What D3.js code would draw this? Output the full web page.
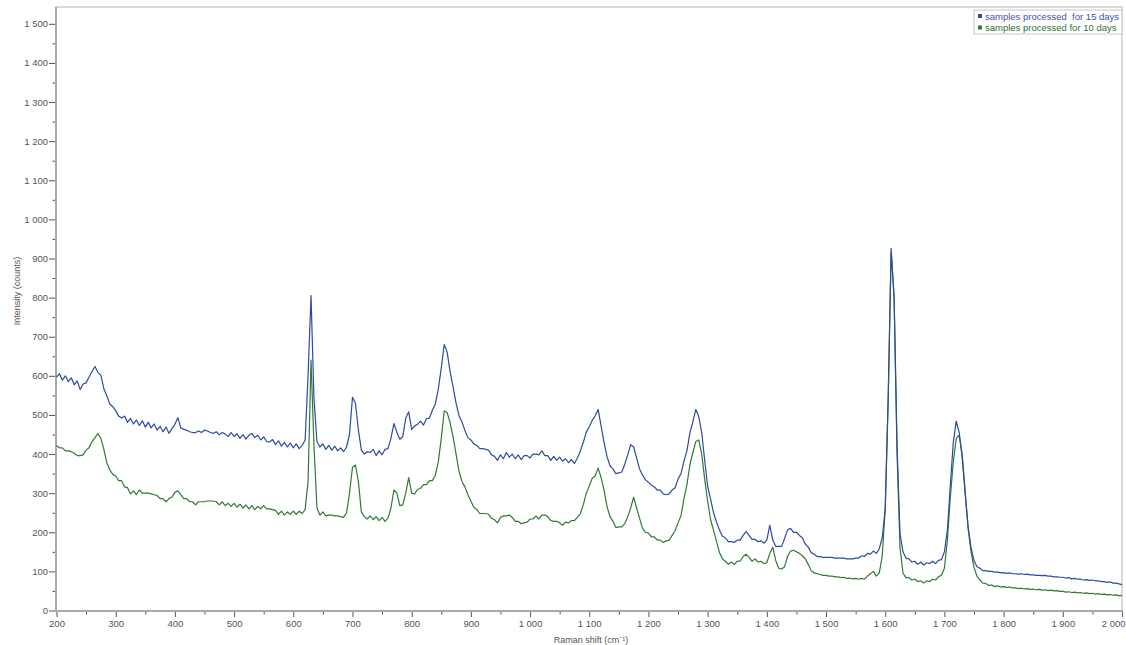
<!DOCTYPE html>
<html>
<head>
<meta charset="utf-8">
<script src="https://cdn.jsdelivr.net/npm/d3@7/dist/d3.min.js"></script>
<style>
  html, body { margin: 0; padding: 0; background: #fff; }
  svg { display: block; font-family: "Liberation Sans", Arial, sans-serif; }
</style>
</head>
<body>
<svg id="chart" width="1126" height="645"></svg>
<script>
// Raman shift sampling: 200 to 2000 cm-1, one reading every 5 cm-1
const shiftStart = 200;
const shiftStep = 5;

// Intensity (counts), samples processed for 15 days (one row per 100 cm-1)
const days15 = [
  597,605,589,600,585,595,577,587,565,579,582,597,611,624,609,601,567,549,528,521,
  511,497,492,497,481,491,477,487,473,485,469,481,467,477,461,471,457,469,453,465,
  476,493,467,463,461,457,455,455,459,455,461,459,455,453,457,449,455,451,445,455,
  445,452,440,450,438,448,453,442,448,436,444,432,431,437,424,434,420,430,418,428,
  416,426,414,422,436,600,805,540,432,418,426,412,422,410,420,408,416,406,418,450,
  545,530,462,410,400,406,404,412,396,408,398,412,414,440,478,456,438,445,492,508,
  463,472,476,484,474,490,492,512,528,566,620,680,660,610,572,530,498,482,460,442,
  436,426,422,414,414,412,410,398,394,384,398,388,404,392,400,388,398,386,396,396,
  390,400,400,398,408,396,396,384,394,384,392,382,388,378,386,376,390,408,430,456,
  470,486,498,514,472,430,394,370,362,350,352,354,374,398,424,418,390,362,346,334,
  328,320,316,308,308,298,296,298,308,314,336,350,382,408,454,482,514,496,455,384,
  318,284,250,226,206,190,186,176,176,174,180,180,192,202,192,182,182,176,178,172,
  180,218,180,164,164,164,184,206,210,200,200,192,186,170,162,148,144,138,138,136,
  136,136,136,134,134,134,134,132,132,132,134,134,140,138,146,144,152,146,158,186,
  260,540,926,800,420,196,150,134,132,124,126,118,124,116,122,120,126,120,128,130,
  150,205,320,430,484,455,390,300,215,160,128,112,108,102,102,100,100,98,98,96,
  97,95,96,94,94,93,94,92,93,91,91,90,90,89,90,88,88,86,86,85,
  85,83,84,81,82,80,80,78,79,77,78,76,76,74,74,72,73,70,70,68,66
];

// Intensity (counts), samples processed for 10 days (one row per 100 cm-1)
const days10 = [
  422,416,416,408,408,406,402,396,396,398,410,416,432,442,452,440,412,378,360,348,
  344,332,332,316,314,298,306,296,308,300,300,300,298,296,294,286,286,278,286,290,
  302,306,296,286,286,278,278,270,278,278,278,280,280,280,278,270,278,268,274,266,
  274,264,272,262,270,260,268,258,266,260,268,260,260,258,256,246,254,244,252,246,
  254,246,254,248,258,330,640,420,262,244,252,242,244,244,242,242,240,238,250,300,
  366,372,330,252,240,234,242,232,240,230,238,228,236,262,308,300,268,270,300,340,
  300,298,310,312,322,322,332,332,346,380,440,510,506,480,444,400,356,330,316,296,
  280,264,258,248,248,248,246,236,232,224,238,242,242,244,238,228,228,222,224,226,
  234,234,242,234,244,244,240,230,228,228,224,218,226,224,230,230,238,248,270,300,
  318,338,344,364,340,308,266,240,228,212,214,214,222,240,262,290,262,236,210,200,
  198,188,188,180,180,174,178,180,192,204,224,242,286,322,372,404,432,436,400,336,
  280,232,205,176,148,132,126,118,124,118,126,126,138,144,136,126,132,124,126,120,
  122,146,162,128,108,106,112,138,152,154,150,146,140,132,118,102,96,94,92,90,
  90,88,88,86,86,84,85,82,83,81,82,80,82,80,88,94,100,88,96,140,
  260,540,915,802,400,160,96,84,84,78,80,74,76,70,76,74,80,78,86,90,
  108,180,290,380,440,448,400,305,210,150,110,88,78,70,69,64,65,61,63,60,
  61,59,60,58,58,56,57,55,56,54,55,53,54,52,53,51,52,50,51,49,
  49,47,48,46,47,45,46,44,45,43,44,42,43,41,42,40,41,39,40,38,38
];

const seriesNames = ["samples processed  for 15 days", "samples processed for 10 days"];
const seriesColors = ["#2d4b9e", "#2f7a34"];
const legendColors = ["#3f53a8", "#2f6f3c"];

const xMajorTicks = d3.range(200, 2001, 100);
const xMinorTicks = d3.range(250, 2000, 100);
const yMajorTicks = d3.range(0, 1501, 100);
const yMinorTicks = d3.range(50, 1501, 100);

(function draw() {
  const shift = days15.map((_, i) => shiftStart + i * shiftStep);

  const svg = d3.select("#chart");
  const pLeft = 56, pRight = 1122, pTop = 7, pBottom = 611;

  const x = d3.scaleLinear().domain([200, 2000]).range([pLeft + 0.5, pRight]);
  const y = d3.scaleLinear().domain([0, 1543]).range([pBottom - 0.5, pTop]);

  const locale = d3.formatLocale({ decimal: ".", thousands: " ", grouping: [3], currency: ["", ""] });
  const fmt = locale.format(",");

  // plot frame
  svg.append("rect")
    .attr("x", pLeft).attr("y", pTop)
    .attr("width", pRight - pLeft).attr("height", pBottom - pTop)
    .attr("fill", "none").attr("stroke", "#b4b4b4").attr("stroke-width", 1);

  // axis lines (heavier on left and bottom)
  svg.append("line").attr("x1", pLeft).attr("x2", pLeft).attr("y1", pTop).attr("y2", pBottom + 1)
    .attr("stroke", "#a8a8a8").attr("stroke-width", 2);
  svg.append("line").attr("x1", pLeft - 1).attr("x2", pRight + 1).attr("y1", pBottom).attr("y2", pBottom)
    .attr("stroke", "#a8a8a8").attr("stroke-width", 2);

  // x axis
  const gx = svg.append("g").attr("transform", `translate(0,${pBottom + 1})`)
    .call(d3.axisBottom(x).tickValues(xMajorTicks).tickFormat(fmt).tickSize(5).tickPadding(3));
  svg.append("g").attr("transform", `translate(0,${pBottom + 1})`)
    .call(d3.axisBottom(x).tickValues(xMinorTicks).tickFormat("").tickSize(2.5));
  // last label sits against the right edge
  gx.selectAll(".tick text").filter(d => d === 2000)
    .attr("text-anchor", "end").attr("x", 3);

  // y axis
  svg.append("g").attr("transform", `translate(${pLeft - 1},0)`)
    .call(d3.axisLeft(y).tickValues(yMajorTicks).tickFormat(fmt).tickSize(6).tickPadding(1));
  svg.append("g").attr("transform", `translate(${pLeft - 1},0)`)
    .call(d3.axisLeft(y).tickValues(yMinorTicks).tickFormat("").tickSize(2.5));

  svg.selectAll(".domain").remove();
  svg.selectAll(".tick line").attr("stroke", "#555").attr("stroke-width", 1);
  svg.selectAll(".tick text").attr("fill", "#555").style("font-size", "9.5px")
    .style("font-family", "'Liberation Sans', Arial, sans-serif");

  // axis titles
  svg.append("text").attr("x", 591).attr("y", 643).attr("text-anchor", "middle")
    .attr("fill", "#555").style("font-size", "9px")
    .text("Raman shift (cm⁻¹)");
  svg.append("text").attr("transform", "translate(19.5,291) rotate(-90)").attr("text-anchor", "middle")
    .attr("fill", "#555").style("font-size", "9px")
    .text("Intensity (counts)");

  // spectra
  const line = d3.line().x((d, i) => x(shift[i])).y(d => y(d));
  const plot = svg.append("g");
  plot.append("path").datum(days10).attr("d", line)
    .attr("fill", "none").attr("stroke", seriesColors[1]).attr("stroke-width", 1.2)
    .attr("stroke-linejoin", "round");
  plot.append("path").datum(days15).attr("d", line)
    .attr("fill", "none").attr("stroke", seriesColors[0]).attr("stroke-width", 1.2)
    .attr("stroke-linejoin", "round");

  // legend
  const lg = svg.append("g").attr("transform", "translate(974,10)");
  lg.append("rect").attr("width", 148).attr("height", 24)
    .attr("fill", "#fff").attr("stroke", "#c8c8c8");
  seriesNames.forEach((name, i) => {
    lg.append("rect").attr("x", 4).attr("y", 4 + i * 11.5).attr("width", 4).attr("height", 4)
      .attr("fill", seriesColors[i]);
    lg.append("text").attr("x", 11).attr("y", 9.5 + i * 11.5)
      .attr("fill", legendColors[i]).style("font-size", "9.5px")
      .style("white-space", "pre")
      .text(name);
  });
})();
</script>
</body>
</html>
